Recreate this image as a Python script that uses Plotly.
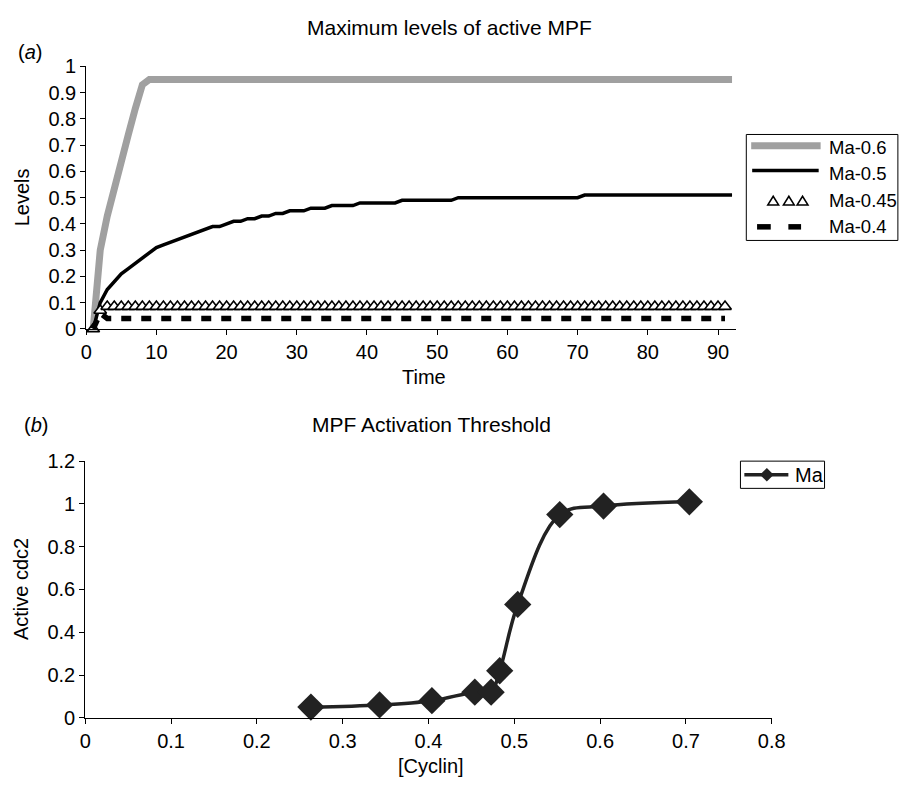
import plotly.graph_objects as go

W, H = 907, 792
FONT = "Liberation Sans, Arial, sans-serif"

# ---- panel (a): maximum levels of active MPF over time ----
time = list(range(1, 93))

ma_06 = [
    0, 0.30, 0.43, 0.54, 0.64, 0.74, 0.84, 0.93, 0.95, 0.95,
    0.95, 0.95, 0.95, 0.95, 0.95, 0.95, 0.95, 0.95, 0.95, 0.95,
    0.95, 0.95, 0.95, 0.95, 0.95, 0.95, 0.95, 0.95, 0.95, 0.95,
    0.95, 0.95, 0.95, 0.95, 0.95, 0.95, 0.95, 0.95, 0.95, 0.95,
    0.95, 0.95, 0.95, 0.95, 0.95, 0.95, 0.95, 0.95, 0.95, 0.95,
    0.95, 0.95, 0.95, 0.95, 0.95, 0.95, 0.95, 0.95, 0.95, 0.95,
    0.95, 0.95, 0.95, 0.95, 0.95, 0.95, 0.95, 0.95, 0.95, 0.95,
    0.95, 0.95, 0.95, 0.95, 0.95, 0.95, 0.95, 0.95, 0.95, 0.95,
    0.95, 0.95, 0.95, 0.95, 0.95, 0.95, 0.95, 0.95, 0.95, 0.95,
    0.95, 0.95,
]

ma_05 = [
    0, 0.10, 0.15, 0.18, 0.21, 0.23, 0.25, 0.27, 0.29, 0.31,
    0.32, 0.33, 0.34, 0.35, 0.36, 0.37, 0.38, 0.39, 0.39, 0.40,
    0.41, 0.41, 0.42, 0.42, 0.43, 0.43, 0.44, 0.44, 0.45, 0.45,
    0.45, 0.46, 0.46, 0.46, 0.47, 0.47, 0.47, 0.47, 0.48, 0.48,
    0.48, 0.48, 0.48, 0.48, 0.49, 0.49, 0.49, 0.49, 0.49, 0.49,
    0.49, 0.49, 0.50, 0.50, 0.50, 0.50, 0.50, 0.50, 0.50, 0.50,
    0.50, 0.50, 0.50, 0.50, 0.50, 0.50, 0.50, 0.50, 0.50, 0.50,
    0.51, 0.51, 0.51, 0.51, 0.51, 0.51, 0.51, 0.51, 0.51, 0.51,
    0.51, 0.51, 0.51, 0.51, 0.51, 0.51, 0.51, 0.51, 0.51, 0.51,
    0.51, 0.51,
]

ma_045 = [
    0, 0.07, 0.085, 0.085, 0.085, 0.085, 0.085, 0.085, 0.085, 0.085,
    0.085, 0.085, 0.085, 0.085, 0.085, 0.085, 0.085, 0.085, 0.085, 0.085,
    0.085, 0.085, 0.085, 0.085, 0.085, 0.085, 0.085, 0.085, 0.085, 0.085,
    0.085, 0.085, 0.085, 0.085, 0.085, 0.085, 0.085, 0.085, 0.085, 0.085,
    0.085, 0.085, 0.085, 0.085, 0.085, 0.085, 0.085, 0.085, 0.085, 0.085,
    0.085, 0.085, 0.085, 0.085, 0.085, 0.085, 0.085, 0.085, 0.085, 0.085,
    0.085, 0.085, 0.085, 0.085, 0.085, 0.085, 0.085, 0.085, 0.085, 0.085,
    0.085, 0.085, 0.085, 0.085, 0.085, 0.085, 0.085, 0.085, 0.085, 0.085,
    0.085, 0.085, 0.085, 0.085, 0.085, 0.085, 0.085, 0.085, 0.085, 0.085,
    0.085,
]

ma_04 = [
    0, 0.06, 0.04, 0.04, 0.04, 0.04, 0.04, 0.04, 0.04, 0.04,
    0.04, 0.04, 0.04, 0.04, 0.04, 0.04, 0.04, 0.04, 0.04, 0.04,
    0.04, 0.04, 0.04, 0.04, 0.04, 0.04, 0.04, 0.04, 0.04, 0.04,
    0.04, 0.04, 0.04, 0.04, 0.04, 0.04, 0.04, 0.04, 0.04, 0.04,
    0.04, 0.04, 0.04, 0.04, 0.04, 0.04, 0.04, 0.04, 0.04, 0.04,
    0.04, 0.04, 0.04, 0.04, 0.04, 0.04, 0.04, 0.04, 0.04, 0.04,
    0.04, 0.04, 0.04, 0.04, 0.04, 0.04, 0.04, 0.04, 0.04, 0.04,
    0.04, 0.04, 0.04, 0.04, 0.04, 0.04, 0.04, 0.04, 0.04, 0.04,
    0.04, 0.04, 0.04, 0.04, 0.04, 0.04, 0.04, 0.04, 0.04, 0.04,
    0.04,
]

time_ticks = [0, 10, 20, 30, 40, 50, 60, 70, 80, 90]
level_ticks = [0, 0.1, 0.2, 0.3, 0.4, 0.5, 0.6, 0.7, 0.8, 0.9, 1]

# ---- panel (b): MPF activation threshold ----
cyclin = [0.263, 0.343, 0.404, 0.454, 0.473, 0.483, 0.504, 0.553, 0.604, 0.704]
active_cdc2 = [0.05, 0.06, 0.08, 0.12, 0.12, 0.22, 0.53, 0.95, 0.99, 1.01]
cyclin_ticks = [0, 0.1, 0.2, 0.3, 0.4, 0.5, 0.6, 0.7, 0.8]
cdc2_ticks = [0, 0.2, 0.4, 0.6, 0.8, 1, 1.2]

GRAY = "#a0a0a0"
DARK = "#222222"


def px_x(p):
    return p / W


def px_y(p):
    return 1 - p / H


fig = go.Figure()

fig.add_trace(go.Scatter(x=time, y=ma_06, mode="lines", name="Ma-0.6",
                         line=dict(color=GRAY, width=7),
                         xaxis="x", yaxis="y", showlegend=False))
fig.add_trace(go.Scatter(x=time, y=ma_05, mode="lines", name="Ma-0.5",
                         line=dict(color="black", width=3.5),
                         xaxis="x", yaxis="y", showlegend=False))
fig.add_trace(go.Scatter(x=time[:len(ma_045)], y=ma_045, mode="markers", name="Ma-0.45",
                         marker=dict(symbol="triangle-up", size=11, color="white",
                                     line=dict(color="black", width=1.6)),
                         cliponaxis=False,
                         xaxis="x", yaxis="y", showlegend=False))
fig.add_trace(go.Scatter(x=time[:len(ma_04)], y=ma_04, mode="lines", name="Ma-0.4",
                         line=dict(color="black", width=5.5, dash="10px,10px"),
                         xaxis="x", yaxis="y", showlegend=False))

fig.add_trace(go.Scatter(x=cyclin, y=active_cdc2, mode="lines+markers", name="Ma",
                         line=dict(color=DARK, width=3.5, shape="spline", smoothing=1),
                         marker=dict(symbol="diamond", size=21, color=DARK),
                         cliponaxis=False,
                         xaxis="x2", yaxis="y2", showlegend=False))

axis_common = dict(showline=True, linecolor="black", linewidth=1, ticks="outside",
                   ticklen=5, tickcolor="black", showgrid=False, zeroline=False,
                   tickfont=dict(family=FONT, size=20, color="black"))

fig.update_layout(
    width=W, height=H, margin=dict(l=0, r=0, t=0, b=0),
    paper_bgcolor="white", plot_bgcolor="white",
    font=dict(family=FONT, color="black"),
    xaxis=dict(domain=[px_x(82), px_x(746)], range=[0, 92.5], tickvals=time_ticks,
               anchor="y", **axis_common),
    yaxis=dict(domain=[px_y(327), px_y(57)], range=[0, 1], tickvals=level_ticks,
               anchor="x", **axis_common),
    xaxis2=dict(domain=[px_x(81), px_x(783)], range=[0, 0.8], tickvals=cyclin_ticks,
                anchor="y2", **axis_common),
    yaxis2=dict(domain=[px_y(727), px_y(463)], range=[0, 1.2], tickvals=cdc2_ticks,
                anchor="x2", **axis_common),
)

# ---- text ----
def label(text, x, y, size=20, angle=0, xanchor="center"):
    fig.add_annotation(text=text, x=px_x(x), y=px_y(y), xref="paper", yref="paper",
                       showarrow=False, textangle=angle, xanchor=xanchor, yanchor="middle",
                       font=dict(family=FONT, size=size, color="black"))


label("Maximum levels of active MPF", 454, 17, size=21)
label("(<i>a</i>)", 25, 42, size=20)
label("Time", 427, 376, size=20)
label("Levels", 16, 192, size=20, angle=-90)
label("(<i>b</i>)", 31, 426, size=20)
label("MPF Activation Threshold", 435, 425, size=21)
label("[Cyclin]", 435, 777, size=20)
label("Active cdc2", 16, 595, size=20, angle=-90)

# ---- legend for panel (a) ----
shapes = []
shapes.append(dict(type="rect", xref="paper", yref="paper",
                   x0=px_x(757), x1=px_x(912), y0=px_y(236), y1=px_y(127),
                   line=dict(color="black", width=1), fillcolor="white"))
shapes.append(dict(type="line", xref="paper", yref="paper",
                   x0=px_x(762), x1=px_x(833), y0=px_y(138.5), y1=px_y(138.5),
                   line=dict(color=GRAY, width=7)))
shapes.append(dict(type="line", xref="paper", yref="paper",
                   x0=px_x(763), x1=px_x(831), y0=px_y(164), y1=px_y(164),
                   line=dict(color="black", width=3.5)))
for cx in (784.5, 800.5, 814.5):
    path = "M {:.5f} {:.5f} L {:.5f} {:.5f} L {:.5f} {:.5f} Z".format(
        px_x(cx - 5.5), px_y(199.5), px_x(cx + 5.5), px_y(199.5), px_x(cx), px_y(190.5))
    shapes.append(dict(type="path", xref="paper", yref="paper", path=path,
                       line=dict(color="black", width=1.6), fillcolor="white"))
for x0, x1 in ((768, 782), (800, 813)):
    shapes.append(dict(type="line", xref="paper", yref="paper",
                       x0=px_x(x0), x1=px_x(x1), y0=px_y(222), y1=px_y(222),
                       line=dict(color="black", width=5.5)))

for text, y in (("Ma-0.6", 140), ("Ma-0.5", 167), ("Ma-0.45", 195), ("Ma-0.4", 222)):
    label(text, 840, y, size=18.5, xanchor="left")

# ---- legend for panel (b) ----
shapes.append(dict(type="rect", xref="paper", yref="paper",
                   x0=px_x(751), x1=px_x(837), y0=px_y(491), y1=px_y(463),
                   line=dict(color="black", width=1), fillcolor="white"))
shapes.append(dict(type="line", xref="paper", yref="paper",
                   x0=px_x(755), x1=px_x(800), y0=px_y(477), y1=px_y(477),
                   line=dict(color=DARK, width=3.5)))
dpath = "M {:.5f} {:.5f} L {:.5f} {:.5f} L {:.5f} {:.5f} L {:.5f} {:.5f} Z".format(
    px_x(771), px_y(477), px_x(778), px_y(470), px_x(785), px_y(477), px_x(778), px_y(484))
shapes.append(dict(type="path", xref="paper", yref="paper", path=dpath,
                   line=dict(color=DARK, width=0), fillcolor=DARK))
label("Ma", 805, 477, size=20, xanchor="left")

fig.update_layout(shapes=shapes)

fig.write_html("out.html")
